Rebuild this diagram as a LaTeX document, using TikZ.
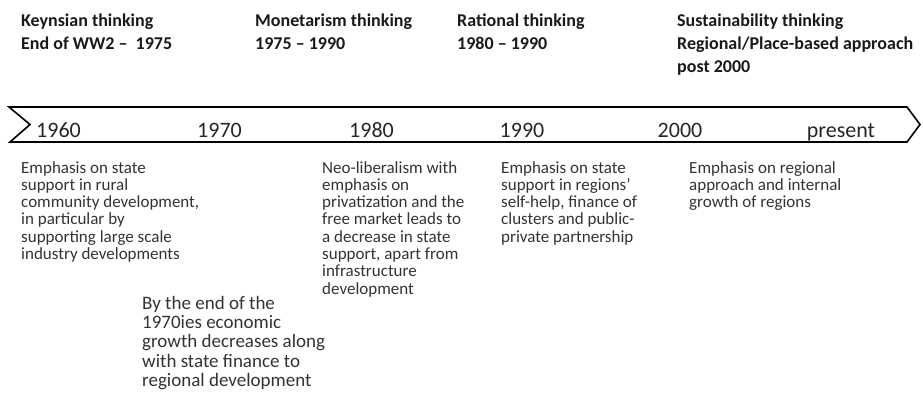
\documentclass[tikz,border=0pt]{standalone}
\usepackage{fontspec}
\setmainfont{Carlito}
\tikzset{every picture/.style={x=1pt, y=-1pt}}
\tikzset{era/.style={anchor=north west, inner sep=0pt, align=left, text=black!90, font=\bfseries\fontsize{18}{22.6}\selectfont}}
\tikzset{year/.style={anchor=base, inner sep=0pt, text=black!85, font=\fontsize{22}{24}\selectfont}}
\tikzset{note/.style={anchor=north west, inner sep=0pt, align=left, text=black!80, font=\fontsize{17}{17.3}\selectfont}}

\begin{document}
\begin{tikzpicture}
\useasboundingbox (0,0) rectangle (923,392);
\draw[line width=1.6pt] (9,107) -- (907,107) -- (920,124.5) -- (907,142) -- (10,142) -- (30,124.5) -- cycle;
\node[era] (keynes) at (21,14) {Keynsian thinking\\End of WW2 –\ \ 1975};
\node[era] (monet) at (255,14) {Monetarism thinking\\1975 – 1990};
\node[era] (ration) at (457,14) {Rational thinking\\1980 – 1990};
\node[era] (sustain) at (677,14) {Sustainability thinking\\Regional/Place-based approach\\post 2000};
\node[year] (y1960) at (58.5,137) {1960};
\node[year] (y1970) at (219.5,137) {1970};
\node[year] (y1980) at (371.5,137) {1980};
\node[year] (y1990) at (522,137) {1990};
\node[year] (y2000) at (680,137) {2000};
\node[year] (ynow) at (841,137) {present};
\node[note] (keynesnote) at (21,161) {Emphasis on state\\support in rural\\community development,\\in particular by\\supporting large scale\\industry developments};
\node[note, font=\fontsize{19}{19.2}\selectfont] (declinenote) at (142,296) {By the end of the\\1970ies economic\\growth decreases along\\with state finance to\\regional development};
\node[note] (monetnote) at (322,161) {Neo-liberalism with\\emphasis on\\privatization and the\\free market leads to\\a decrease in state\\support, apart from\\infrastructure\\development};
\node[note] (rationnote) at (501,161) {Emphasis on state\\support in regions'\\self-help, finance of\\clusters and public-\\private partnership};
\node[note] (sustainnote) at (689,161) {Emphasis on regional\\approach and internal\\growth of regions};
\end{tikzpicture}
\end{document}
